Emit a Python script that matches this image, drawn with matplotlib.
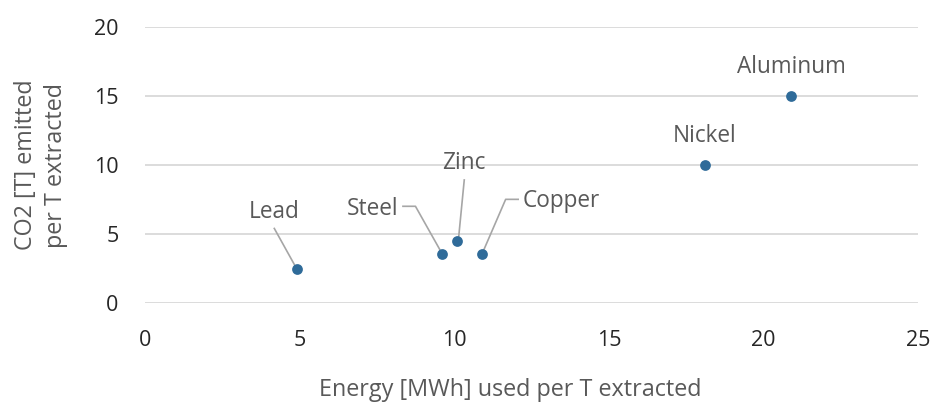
import matplotlib
matplotlib.use("Agg")
import matplotlib.pyplot as plt

# Metal production footprint
metals = ["Lead", "Steel", "Zinc", "Copper", "Nickel", "Aluminum"]
energy_mwh = [4.9, 9.6, 10.1, 10.9, 18.1, 20.9]
co2_t = [2.5, 3.6, 4.5, 3.6, 10.0, 15.0]

x_ticks = [0, 5, 10, 15, 20, 25]
y_ticks = [0, 5, 10, 15, 20]

plt.rcParams["font.family"] = ["Open Sans", "DejaVu Sans"]
TEXT = "#595959"
DOT = "#2F6B99"
GRID = "#D9D9D9"
LEADER = "#A6A6A6"
LABEL_SIZE = 16.3
TITLE_SIZE = 16.8
TICK_SIZE = 15.5

fig = plt.figure(figsize=(9.38, 4.03), dpi=100)
ax = fig.add_axes([0.1546, 0.2474, 0.8241, 0.6863])

ax.scatter(energy_mwh, co2_t, s=60, color=DOT, zorder=3, linewidths=0)

ax.set_xlim(0, 25)
ax.set_ylim(0, 20)
ax.set_xticks(x_ticks)
ax.set_yticks(y_ticks)
ax.yaxis.grid(True, color=GRID, linewidth=1.3)
ax.set_axisbelow(True)
for side in ["top", "right", "left", "bottom"]:
    ax.spines[side].set_visible(False)
ax.tick_params(length=0, labelsize=TICK_SIZE, colors="#262626")
ax.tick_params(axis="y", pad=19)
ax.tick_params(axis="x", pad=19)

ax.set_xlabel("Energy [MWh] used per T extracted", fontsize=TITLE_SIZE, color=TEXT)
ax.xaxis.set_label_coords(0.472, -0.27)
ax.set_ylabel("CO2 [T] emitted\nper T extracted", fontsize=TITLE_SIZE, color=TEXT,
              labelpad=19, linespacing=1.3)

# Label offsets (points) for each metal
label_specs = {
    "Lead": dict(offset=(-16, 41), ha="center"),
    "Steel": dict(offset=(-31, 32), ha="right"),
    "Zinc": dict(offset=(5, 56), ha="center"),
    "Copper": dict(offset=(29, 38), ha="left"),
    "Nickel": dict(offset=(0, 21), ha="center"),
    "Aluminum": dict(offset=(0, 21), ha="center"),
}

for name, x, y in zip(metals, energy_mwh, co2_t):
    spec = label_specs[name]
    ax.annotate(name, (x, y), xytext=spec["offset"], textcoords="offset points",
                ha=spec["ha"], va="center", fontsize=LABEL_SIZE, color=TEXT)

# Leader lines, vertices given in points relative to each data point
leaders = {
    "Lead": [(-16, 29), (-1, 2)],
    "Steel": [(-28, 34), (-19, 34), (-1, 2)],
    "Zinc": [(5, 44), (1, 3)],
    "Copper": [(26, 39), (17, 39), (1, 2)],
}
to_px = fig.dpi / 72
for name, pts in leaders.items():
    i = metals.index(name)
    base = ax.transData.transform((energy_mwh[i], co2_t[i]))
    disp = [(base[0] + ox * to_px, base[1] + oy * to_px) for ox, oy in pts]
    data = ax.transData.inverted().transform(disp)
    ax.plot(data[:, 0], data[:, 1], color=LEADER, linewidth=1.2, zorder=2, clip_on=False)

fig.savefig("out.png", dpi=100, facecolor="white")
